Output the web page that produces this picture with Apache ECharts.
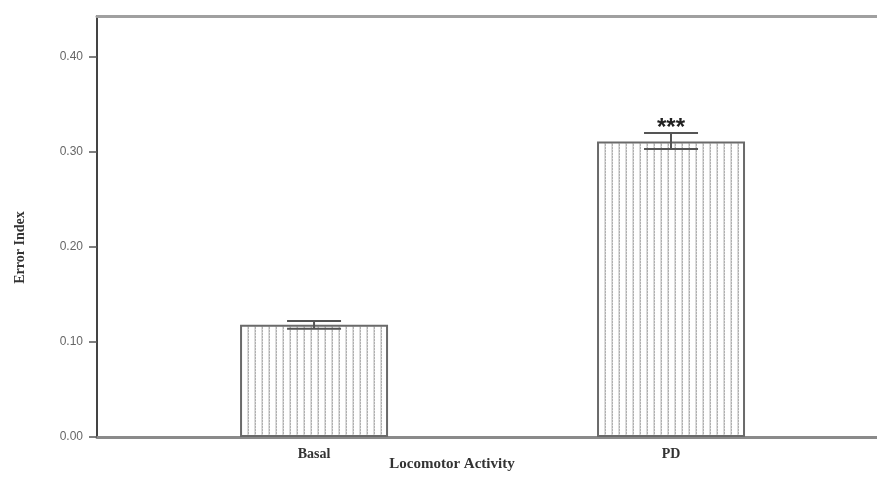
<!DOCTYPE html>
<html>
<head>
<meta charset="utf-8">
<script src="https://cdn.jsdelivr.net/npm/echarts@6/dist/echarts.min.js"></script>
<style>html,body{margin:0;padding:0;background:#fff}#c{width:877px;height:478px}</style>
</head>
<body>
<div id="c"></div>
<script>
// ---- data ----
const categories = ['Basal', 'PD'];
const means = [0.118, 0.311];
const errLow = [0.114, 0.303];
const errHigh = [0.122, 0.320];
const marks = ['', '***'];
const yTicks = [0, 0.1, 0.2, 0.3, 0.4];

// hatch pattern (vertical dotted lines)
function makePattern() {
  const c = document.createElement('canvas');
  c.width = 7; c.height = 3;
  const g = c.getContext('2d');
  g.fillStyle = '#ffffff';
  g.fillRect(0, 0, 7, 3);
  g.fillStyle = '#dcdcdc';
  g.fillRect(2, 0, 1, 3);
  g.fillStyle = '#b0b0b0';
  g.fillRect(3, 0, 1, 2);
  g.fillStyle = '#d8d8d8';
  g.fillRect(3, 2, 1, 1);
  return c;
}

const pos = categories.map((_, i) => i + 1);
const barData = pos.map((p, i) => [p, means[i]]);
const errData = pos.map((p, i) => [p, errLow[i], errHigh[i], marks[i]]);

const chart = echarts.init(document.getElementById('c'), null, {renderer: 'canvas'});
chart.setOption({
  animation: false,
  backgroundColor: '#ffffff',
  grid: {left: 97, right: 0, top: 16, bottom: 41, containLabel: false, outerBoundsMode: 'none'},
  xAxis: [{
    type: 'value',
    min: 0.392, max: 2.577,
    splitLine: {show: false},
    axisLine: {show: true, lineStyle: {color: '#8a8a8a', width: 3}},
    axisTick: {show: false},
    axisLabel: {
      customValues: pos,
      margin: 10,
      formatter: v => categories[Math.round(v) - 1] || '',
      fontFamily: 'Liberation Serif', fontWeight: 'bold', fontSize: 14, color: '#333'
    },
    name: 'Locomotor Activity',
    nameLocation: 'middle',
    nameGap: 20,
    nameMoveOverlap: false,
    nameTextStyle: {fontFamily: 'Liberation Serif', fontWeight: 'bold', fontSize: 15, color: '#333', padding: [0, 70, 0, 0]}
  }, {
    type: 'value', position: 'top',
    min: 0.392, max: 2.577,
    splitLine: {show: false},
    axisLine: {show: true, onZero: false, lineStyle: {color: '#a0a0a0', width: 3}},
    axisTick: {show: false}, axisLabel: {show: false}
  }],
  yAxis: {
    type: 'value',
    min: 0, max: 0.443, interval: 0.1,
    splitLine: {show: false},
    axisLine: {show: true, lineStyle: {color: '#444', width: 2}},
    axisTick: {show: true, length: 8, lineStyle: {color: '#555', width: 1.5}, customValues: yTicks},
    axisLabel: {
      customValues: yTicks,
      formatter: v => v.toFixed(2),
      fontFamily: 'Liberation Sans', fontSize: 12, color: '#666', margin: 14
    },
    name: 'Error Index',
    nameLocation: 'middle',
    nameGap: 70,
    nameRotate: 90,
    nameMoveOverlap: false,
    nameTextStyle: {fontFamily: 'Liberation Serif', fontWeight: 'bold', fontSize: 14, color: '#333', padding: [0, 42, 0, 0]}
  },
  series: [{
    type: 'bar',
    xAxisIndex: 0,
    data: barData,
    barWidth: 148,
    itemStyle: {color: {image: makePattern(), repeat: 'repeat'}, borderColor: '#6a6a6a', borderWidth: 2},
    z: 2
  }, {
    type: 'custom',
    xAxisIndex: 0,
    data: errData,
    z: 5,
    renderItem: function (params, api) {
      const x = api.value(0);
      const lo = api.coord([x, api.value(1)]);
      const hi = api.coord([x, api.value(2)]);
      const hw = 27;
      const st = {stroke: '#555', lineWidth: 2};
      const children = [
        {type: 'line', shape: {x1: lo[0], y1: lo[1], x2: hi[0], y2: hi[1]}, style: st},
        {type: 'line', shape: {x1: lo[0] - hw, y1: lo[1], x2: lo[0] + hw, y2: lo[1]}, style: st},
        {type: 'line', shape: {x1: hi[0] - hw, y1: hi[1], x2: hi[0] + hw, y2: hi[1]}, style: st}
      ];
      const m = api.value(3);
      if (m) {
        children.push({type: 'text', x: hi[0], y: hi[1] - 5, style: {
          text: m, textAlign: 'center', textVerticalAlign: 'middle',
          font: 'bold 24px "Liberation Sans"', fill: '#222'
        }});
      }
      return {type: 'group', children: children};
    }
  }]
});
</script>
</body>
</html>
